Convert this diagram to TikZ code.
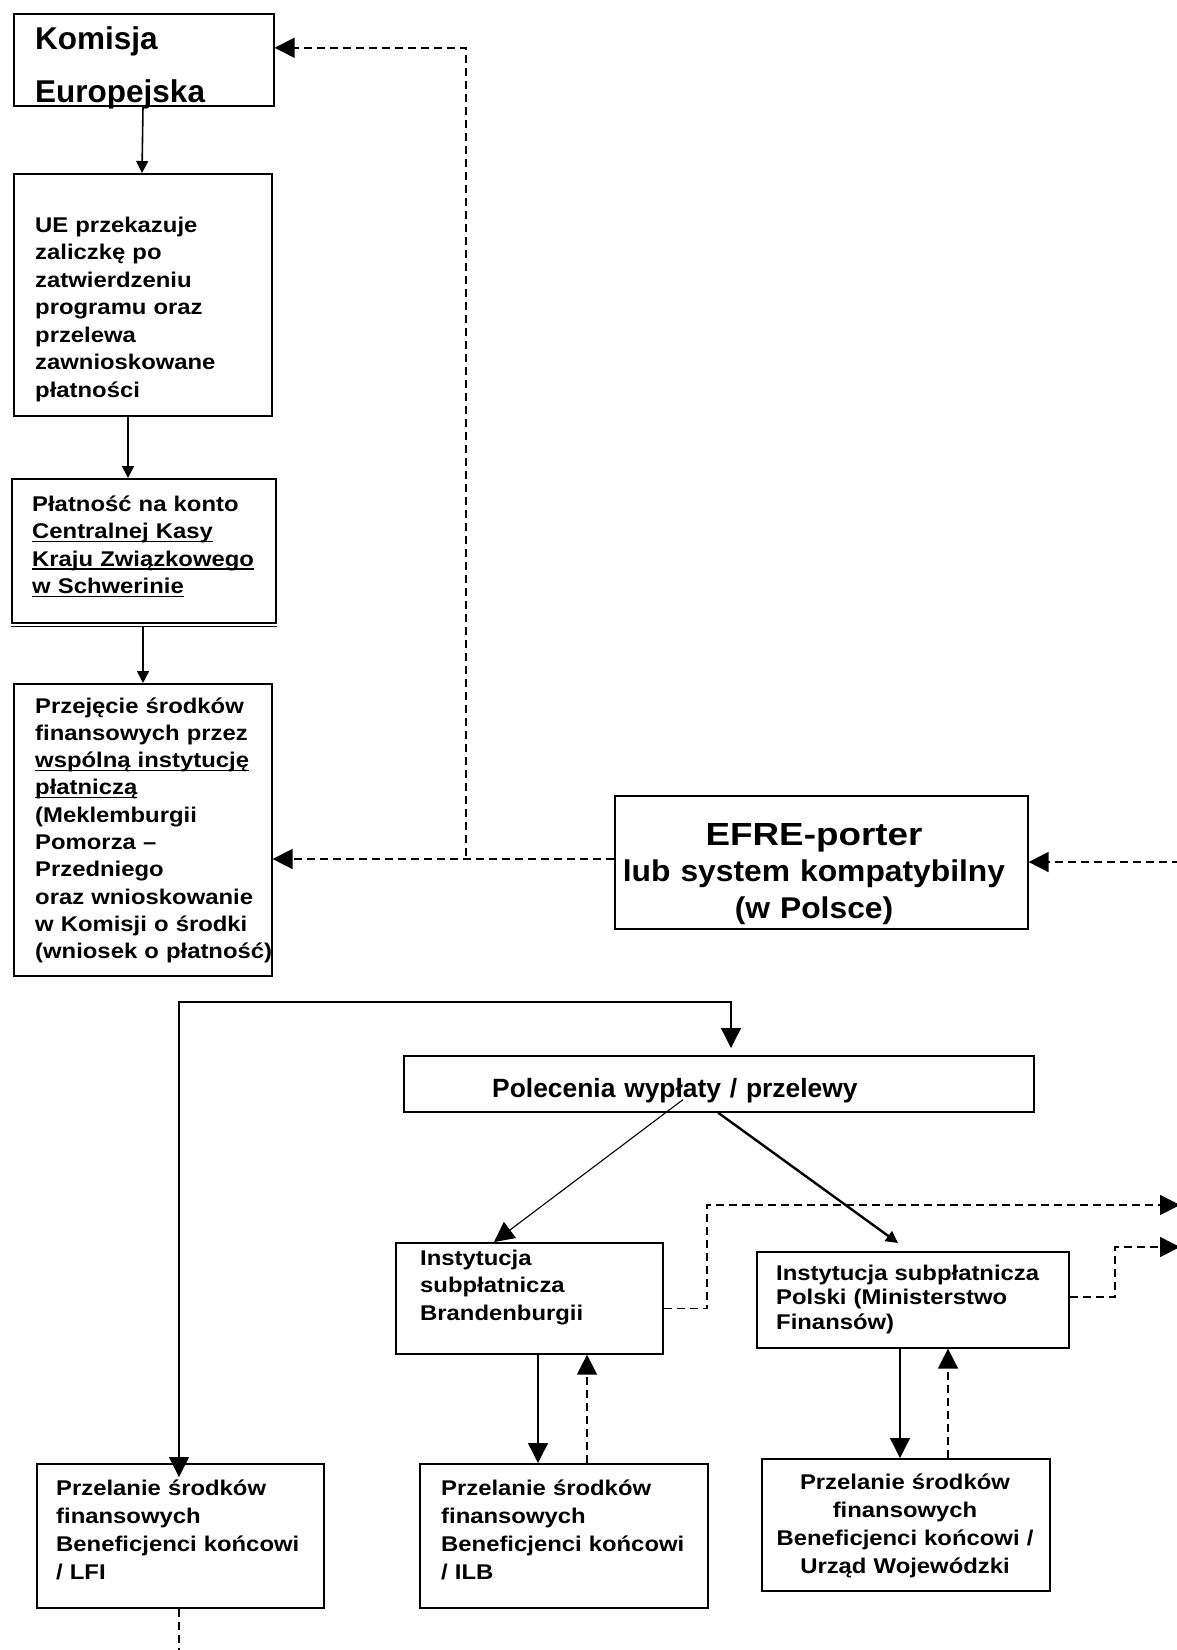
\documentclass[tikz,border=0pt]{standalone}
\usepackage{fontspec}
\setmainfont{Liberation Sans}
\newfontfamily\txtfont{Liberation Sans}[FakeStretch=1.12]
\newfontfamily\efrefont{Liberation Sans}[FakeStretch=1.15]
\newfontfamily\efresub{Liberation Sans}[FakeStretch=1.06]
\usepackage{tikz}
\usetikzlibrary{arrows.meta,calc}
\newsavebox\ulbox
\newcommand{\uln}[1]{\leavevmode\sbox\ulbox{#1}\rlap{\rule[-3.5pt]{\wd\ulbox}{1.4pt}}\usebox\ulbox}
\tikzset{
box/.style={draw, line width=1.6pt, inner sep=0pt, anchor=north west}, % all frames
txt/.style={inner sep=0pt, anchor=base west, align=left, text width=300pt,
  font=\txtfont\bfseries\fontsize{21.3}{27.5}\selectfont},
arr/.style={line width=1.6pt, -{Triangle[length=12pt,width=12pt]}},
bigarr/.style={line width=1.3pt, -{Triangle[length=20pt,width=20pt]}},
dline/.style={line width=1.5pt, dash pattern=on 8pt off 5pt},
darr/.style={bigarr, dline},
}

\begin{document}
\begin{tikzpicture}[x=1pt,y=1pt,yscale=-1,xscale=1]
\useasboundingbox (0,0) rectangle (1176,1650);

% Frames
\node[box, minimum width=260pt, minimum height=92pt] (kom) at (13,13) {};
\node[box, minimum width=258pt, minimum height=242pt] (ue) at (13,173) {};
\node[box, minimum width=264pt, minimum height=144pt] (plat) at (11,478) {};
\draw[line width=1.2pt] ([yshift=3pt]plat.south west) -- ([yshift=3pt]plat.south east);
\node[box, minimum width=258pt, minimum height=292pt] (przej) at (13,683) {};
\node[box, minimum width=413pt, minimum height=133pt] (efre) at (614,795) {};
\node[box, minimum width=630pt, minimum height=56pt] (pol) at (403,1055) {};
\node[box, minimum width=267pt, minimum height=111pt] (brand) at (395,1242) {};
\node[box, minimum width=312pt, minimum height=96pt] (polski) at (756,1251) {};
\node[box, minimum width=287pt, minimum height=144pt] (lfi) at (36,1463) {};
\node[box, minimum width=288pt, minimum height=144pt] (ilb) at (419,1463) {};
\node[box, minimum width=288pt, minimum height=132pt] (urzad) at (761,1458) {};

% Texts
\node[txt, font=\bfseries\fontsize{31.5}{53}\selectfont] (komtxt) at (35,49) {Komisja\\Europejska};
\node[txt] (uetxt) at (35,232) {UE przekazuje\\zaliczkę po\\zatwierdzeniu\\programu oraz\\przelewa\\zawnioskowane\\płatności};
\node[txt] (plattxt) at (32,511) {Płatność na konto\\\uln{Centralnej Kasy}\\\uln{Kraju Związkowego}\\\uln{w Schwerinie}};
\node[txt, font=\txtfont\bfseries\fontsize{21.3}{27.3}\selectfont] (przejtxt) at (35,713) {Przejęcie środków\\finansowych przez\\\uln{wspólną instytucję}\\\uln{płatniczą}\\(Meklemburgii\\Pomorza –\\Przedniego\\oraz wnioskowanie\\w Komisji o środki\\(wniosek o płatność)};
\node[anchor=base, align=center, inner sep=0pt, text width=420pt,
  font=\efresub\bfseries\fontsize{30}{36.5}\selectfont] (efretxt) at (814,845)
  {{\efrefont\bfseries\fontsize{32}{36.5}\selectfont EFRE-porter}\\lub system kompatybilny\\(w Polsce)};
\node[txt, text width=420pt, font=\bfseries\fontsize{26.4}{30}\selectfont] (poltxt) at (492,1097) {Polecenia wypłaty / przelewy};
\node[txt] (brandtxt) at (420,1265) {Instytucja\\subpłatnicza\\Brandenburgii};
\node[txt, font=\txtfont\bfseries\fontsize{21.3}{24.5}\selectfont] (polskitxt) at (776,1280) {Instytucja subpłatnicza\\Polski (Ministerstwo\\Finansów)};
\node[txt, font=\txtfont\bfseries\fontsize{21.3}{28.3}\selectfont] (lfitxt) at (56,1495) {Przelanie środków\\finansowych\\Beneficjenci końcowi\\/ LFI};
\node[txt, font=\txtfont\bfseries\fontsize{21.3}{28.3}\selectfont] (ilbtxt) at (441,1495) {Przelanie środków\\finansowych\\Beneficjenci końcowi\\/ ILB};
\node[txt, anchor=base, align=center, font=\txtfont\bfseries\fontsize{21.3}{28.3}\selectfont] (urzadtxt) at (905,1489) {Przelanie środków\\finansowych\\Beneficjenci końcowi /\\Urząd Wojewódzki};

% Free ends
\coordinate (jn) at (466,856);
\coordinate (edge1) at (1180,862);
\coordinate (loop) at (179,1002);
\coordinate (k1) at (707,1205);
\coordinate (edge2) at (1180,1205);
\coordinate (k2) at (1115,1247);
\coordinate (edge3) at (1180,1247);
\coordinate (edge4) at (179,1652);

% Left column
\draw[arr] ([xshift=130pt]kom.south west) -- ([xshift=129pt]ue.north west);
\draw[arr] ([xshift=115pt]ue.south west) -- ([xshift=117pt]plat.north west);
\draw[arr] ([xshift=132pt,yshift=3pt]plat.south west) -- ([xshift=130pt]przej.north west);

% EFRE links
\draw[darr] (efre.west |- 0,859) -- (przej.east |- 0,859);
\draw[darr] (jn) |- ([yshift=-12pt]kom.east);
\draw[darr] (edge1) -- (efre.east |- edge1);

% Payment orders
\draw[line width=1.3pt, {Triangle[length=20pt,width=20pt]}-{Triangle[length=20pt,width=20pt]}]
  ([xshift=143pt,yshift=14pt]lfi.north west) -- (loop) -| ([xshift=328pt,yshift=-7pt]pol.north west);
\draw[bigarr, line width=1.1pt] ([xshift=280pt,yshift=-13pt]pol.south west) -- ([xshift=99pt]brand.north west);
\draw[arr, line width=2.4pt] ([xshift=315pt]pol.south west) -- ([xshift=142pt,yshift=-8pt]polski.north west);

% Sub-paying bodies
\draw[bigarr] ([xshift=143pt]brand.south west) -- ([xshift=119pt]ilb.north west);
\draw[darr] ([xshift=168pt]ilb.north west) -- ([xshift=192pt]brand.south west);
\draw[darr] ([yshift=10pt]brand.east) -| (k1) -- (edge2);
\draw[darr] ([yshift=-3pt]polski.east) -| (k2) -- (edge3);
\draw[bigarr] ([xshift=144pt]polski.south west) -- ([xshift=139pt]urzad.north west);
\draw[darr] ([xshift=187pt]urzad.north west) -- ([xshift=192pt]polski.south west);
\draw[dline] ([xshift=143pt]lfi.south west) -- (edge4);

\end{tikzpicture}
\end{document}
